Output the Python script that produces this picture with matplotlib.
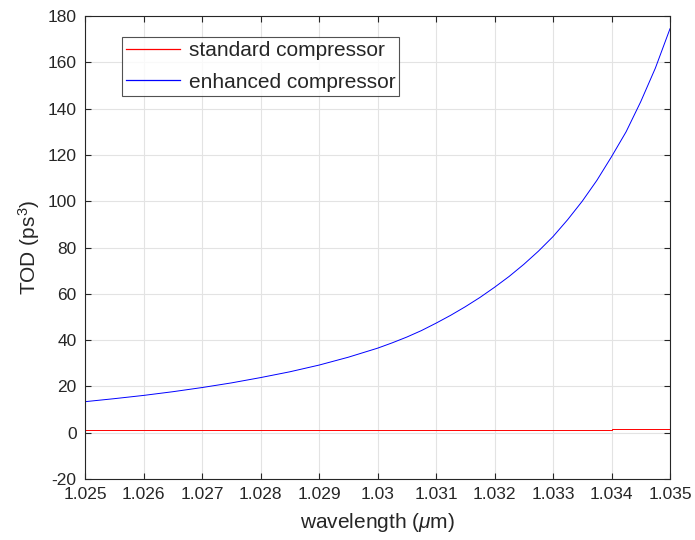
import matplotlib
matplotlib.use("Agg")
import matplotlib.pyplot as plt

plt.rcParams['font.family'] = ['Liberation Sans', 'DejaVu Sans']
plt.rcParams['mathtext.fontset'] = 'custom'
plt.rcParams['mathtext.rm'] = 'Liberation Sans'
plt.rcParams['mathtext.it'] = 'Liberation Sans:italic'
plt.rcParams['axes.unicode_minus'] = False

wavelength_blue = [1.025, 1.0255, 1.026, 1.0265, 1.027, 1.0275, 1.028, 1.0285, 1.029, 1.0295,
                   1.030, 1.03025, 1.0305, 1.03075, 1.031, 1.03125, 1.0315, 1.03175,
                   1.032, 1.03225, 1.0325, 1.03275, 1.033, 1.03325, 1.0335, 1.03375,
                   1.034, 1.03425, 1.0345, 1.03475, 1.035]
tod_enhanced = [13.4, 14.7, 16.1, 17.7, 19.5, 21.5, 23.8, 26.3, 29.2, 32.6,
                36.5, 38.8, 41.3, 44.1, 47.3, 50.7, 54.4, 58.4,
                62.8, 67.5, 72.7, 78.4, 84.7, 92.0, 100.0, 109.0,
                119.2, 130.0, 143.0, 157.5, 174.5]

wavelength_red = [1.025, 1.027, 1.029, 1.031, 1.033, 1.034, 1.034, 1.035]
tod_standard = [1.2, 1.2, 1.2, 1.2, 1.2, 1.2, 1.6, 1.6]

xticks = [1.025, 1.026, 1.027, 1.028, 1.029, 1.03, 1.031, 1.032, 1.033, 1.034, 1.035]
xticklabels = ['1.025', '1.026', '1.027', '1.028', '1.029', '1.03', '1.031', '1.032', '1.033', '1.034', '1.035']
yticks = [-20, 0, 20, 40, 60, 80, 100, 120, 140, 160, 180]

fig = plt.figure(figsize=(6.95, 5.40), dpi=100)
ax = fig.add_axes([85/695, 1-479/540, (670-85)/695, (479-16)/540])

ax.plot(wavelength_red, tod_standard, color='#ff0000', lw=0.7, label='standard compressor')
ax.plot(wavelength_blue, tod_enhanced, color='#0000ff', lw=0.7, label='enhanced compressor')

ax.set_xlim(1.025, 1.035)
ax.set_ylim(-20, 180)
ax.set_xticks(xticks)
ax.set_xticklabels(xticklabels)
ax.set_yticks(yticks)

tc = '#262626'
ax.grid(True, color='#e3e3e3', lw=0.8)
ax.set_axisbelow(True)
for s in ax.spines.values():
    s.set_color('#262626')
    s.set_linewidth(0.8)
ax.tick_params(direction='in', top=True, right=True, length=4, width=0.8,
               colors=tc, labelsize=12.5, pad=6)

ax.set_xlabel(r'wavelength ($\mu$m)', fontsize=15, color=tc, labelpad=6)
ax.set_ylabel(r'TOD (ps$^3$)', fontsize=15, color=tc, labelpad=4)

leg = ax.legend(loc='upper left', bbox_to_anchor=(0.063, 0.955), borderaxespad=0,
                fontsize=15, frameon=True, fancybox=False, handlelength=2.6,
                handletextpad=0.4, borderpad=0.2, labelspacing=0.6)
leg.get_frame().set_edgecolor('#262626')
leg.get_frame().set_linewidth(0.8)
for t in leg.get_texts():
    t.set_color(tc)
for h, c in zip(leg.get_lines(), ['#ff0000', '#0000ff']):
    h.set_color(c)
    h.set_linewidth(0.9)

fig.savefig('out.png', dpi=100)
